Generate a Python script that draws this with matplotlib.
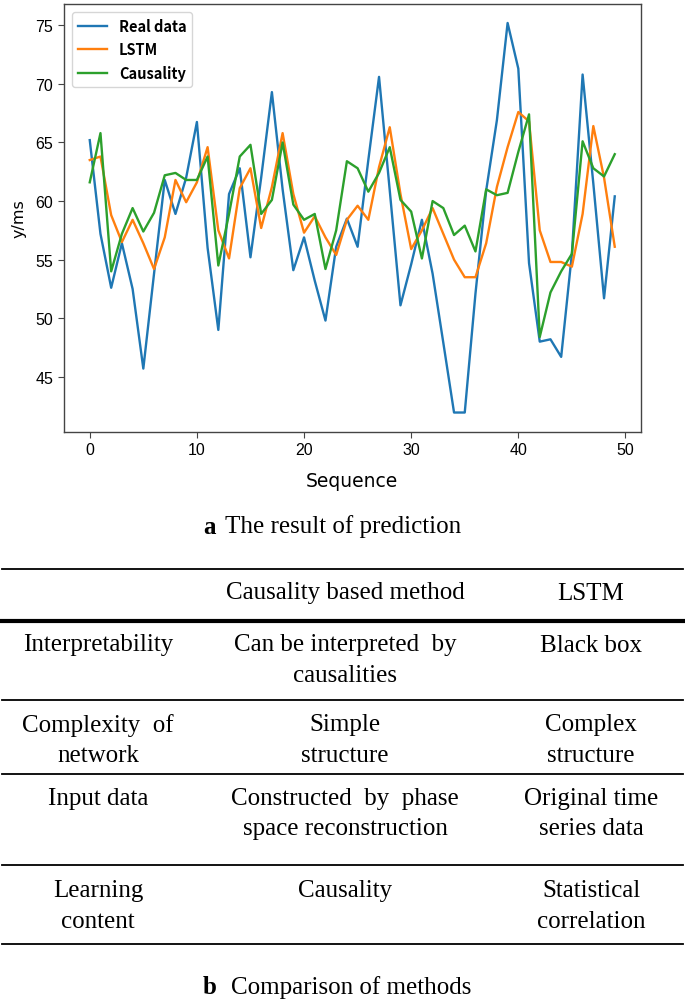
import matplotlib
matplotlib.use("Agg")
import matplotlib.pyplot as plt
from matplotlib.lines import Line2D

# ---------------- data ----------------
real_data = [65.2, 57.2, 52.6, 56.4, 52.5, 45.7, 53.8, 61.8, 58.9, 62.0,
             66.75, 56.0, 49.0, 60.6, 62.8, 55.2, 62.0, 69.3, 61.0, 54.1,
             56.9, 53.2, 49.8, 56.1, 58.5, 56.1, 63.5, 70.6, 60.9, 51.1,
             54.6, 58.4, 53.8, 47.9, 41.95, 41.95, 52.1, 60.9, 66.9, 75.2,
             71.3, 54.7, 48.0, 48.2, 46.7, 55.5, 70.8, 61.5, 51.7, 60.4]
lstm = [63.5, 63.8, 58.8, 56.5, 58.4, 56.4, 54.2, 56.9, 61.8, 59.9,
        61.6, 64.6, 57.5, 55.1, 61.1, 62.8, 57.7, 61.2, 65.8, 60.6,
        57.3, 58.7, 56.9, 55.4, 58.4, 59.6, 58.4, 62.9, 66.3, 60.6,
        55.9, 57.5, 59.4, 57.2, 55.0, 53.5, 53.5, 56.4, 61.2, 64.6,
        67.6, 66.8, 57.5, 54.8, 54.8, 54.4, 58.9, 66.4, 62.0, 56.1]
causality = [61.6, 65.8, 54.0, 57.2, 59.4, 57.4, 59.0, 62.2, 62.4, 61.8,
             61.8, 63.8, 54.5, 58.9, 63.8, 64.8, 58.9, 60.1, 65.0, 59.7,
             58.4, 58.9, 54.2, 57.5, 63.4, 62.8, 60.8, 62.4, 64.6, 60.1,
             59.1, 55.1, 60.0, 59.4, 57.1, 57.9, 55.7, 61.0, 60.5, 60.7,
             64.2, 67.4, 48.4, 52.2, 54.0, 55.5, 65.1, 62.8, 62.1, 64.0]
series_labels = ["Real data", "LSTM", "Causality"]

table_header = ["", "Causality based method", "LSTM"]
table_rows = [
    ["Interpretability", "Can be interpreted  by\ncausalities", "Black box"],
    ["Complexity  of\nnetwork", "Simple\nstructure", "Complex\nstructure"],
    ["Input data", "Constructed  by  phase\nspace reconstruction", "Original time\nseries data"],
    ["Learning\ncontent", "Causality", "Statistical\ncorrelation"],
]
caption_a = ("a", "The result of prediction")
caption_b = ("b", "Comparison of methods")

# ---------------- figure ----------------
W, H = 685, 1003
fig = plt.figure(figsize=(W / 100, H / 100), dpi=100)
fig.patch.set_facecolor("white")

def fx(px):
    return px / W

def fy(py):
    return 1 - py / H

ax_l, ax_r, ax_t, ax_b = 63.5, 641, 4.5, 433
ax = fig.add_axes([fx(ax_l), fy(ax_b), fx(ax_r) - fx(ax_l), fy(ax_t) - fy(ax_b)])
x = list(range(len(real_data)))
ax.plot(x, real_data, color="#1f77b4", lw=1.7, label=series_labels[0])
ax.plot(x, lstm, color="#ff7f0e", lw=1.7, label=series_labels[1])
ax.plot(x, causality, color="#2ca02c", lw=1.7, label=series_labels[2])
ax.set_xticks([0, 10, 20, 30, 40, 50])
ax.set_yticks([45, 50, 55, 60, 65, 70, 75])
for sp in ax.spines.values():
    sp.set_color("#444444")
    sp.set_linewidth(1.0)
ax.tick_params(colors="#444444", labelcolor="black", labelsize=11.5, length=4)
for lab in ax.get_xticklabels() + ax.get_yticklabels():
    lab.set_family("Liberation Sans")
ax.set_xlabel("Sequence", fontsize=13.5, family="DejaVu Sans", labelpad=10)
ax.set_ylabel("y/ms", fontsize=11.5, family="DejaVu Sans", labelpad=6)
leg = ax.legend(loc="upper left", prop={"family": "Noto Sans CJK SC", "weight": "bold", "size": 10.5},
                handlelength=2.0, borderaxespad=0.6, labelspacing=0.5)

# ---------------- captions ----------------
serif = "Liberation Serif"
fs = 18
fig.text(fx(216), fy(527), caption_a[0], ha="right", va="center", family=serif, weight="bold", fontsize=fs)
fig.text(fx(225), fy(527), caption_a[1], ha="left", va="center", family=serif, fontsize=fs)
fig.text(fx(217), fy(988), caption_b[0], ha="right", va="center", family=serif, weight="bold", fontsize=fs)
fig.text(fx(231), fy(988), caption_b[1], ha="left", va="center", family=serif, fontsize=fs)

# ---------------- table ----------------
col_x = [98, 345, 591]
line_specs = [(570, 1.3), (622, 3.0), (701, 1.3), (775, 1.3), (866, 1.3), (945, 1.3)]
for yy, lw in line_specs:
    fig.add_artist(Line2D([fx(2), fx(683)], [fy(yy), fy(yy)], color="black", lw=lw,
                          transform=fig.transFigure))

row_first_y = [645.5, 725.5, 798.5, 891.5]
line_step = 31
for ci, txt in enumerate(table_header):
    if txt:
        fig.text(fx(col_x[ci]), fy(593.5), txt, ha="center", va="center", family=serif, fontsize=fs)
for ri, row in enumerate(table_rows):
    for ci, txt in enumerate(row):
        for li, line in enumerate(txt.split("\n")):
            fig.text(fx(col_x[ci]), fy(row_first_y[ri] + li * line_step), line,
                     ha="center", va="center", family=serif, fontsize=fs)

fig.savefig("out.png", dpi=100)
